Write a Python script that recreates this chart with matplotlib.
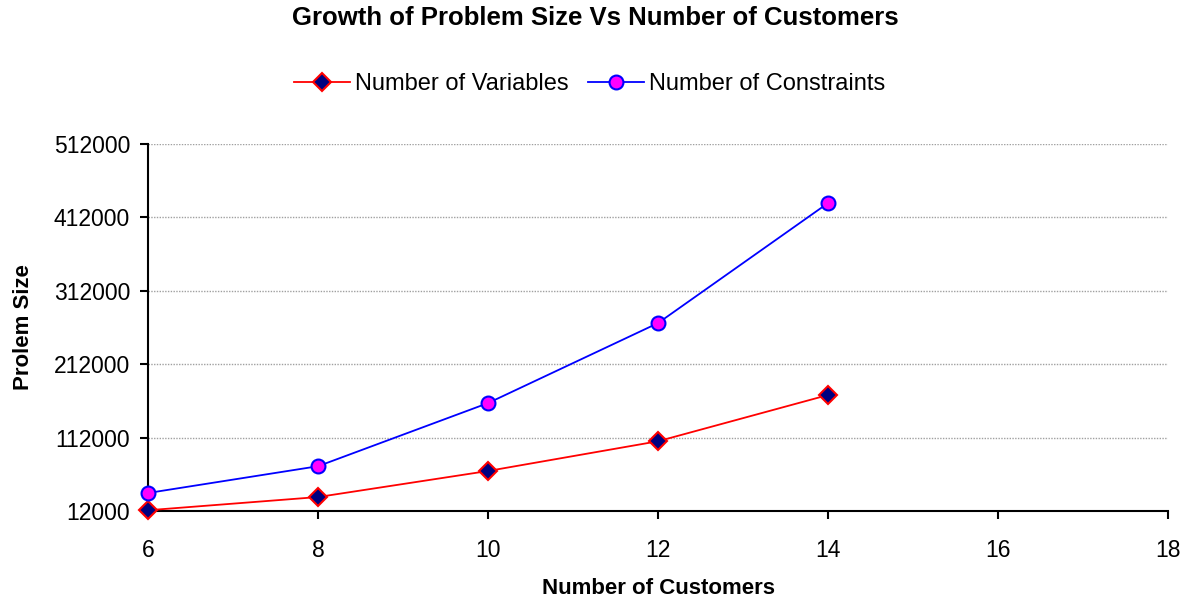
import matplotlib.pyplot as plt

customers = [6, 8, 10, 12, 14]
num_variables = [13000, 31000, 66500, 107000, 170000]
num_constraints = [36500, 73000, 159000, 268000, 431500]
y_ticks = [12000, 112000, 212000, 312000, 412000, 512000]
x_ticks = [6, 8, 10, 12, 14, 16, 18]

plt.rcParams['font.family'] = ['Liberation Sans', 'DejaVu Sans']

fig = plt.figure(figsize=(11.91, 6.05), dpi=100)
ax = fig.add_axes([0.1243, 0.1554, 0.8564, 0.6066])

ax.plot(customers, num_variables, color='red', linewidth=1.3, marker='D',
        markersize=9, markerfacecolor='#000080', markeredgecolor='red',
        markeredgewidth=1.5, label='Number of Variables', clip_on=False, zorder=3)
ax.plot(customers, num_constraints, color='blue', linewidth=1.3, marker='o',
        markersize=10, markerfacecolor='magenta', markeredgecolor='blue',
        markeredgewidth=1.5, label='Number of Constraints', clip_on=False, zorder=3)

ax.set_xlim(6, 18)
ax.set_ylim(12000, 512000)
ax.set_xticks(x_ticks)
ax.set_yticks(y_ticks)
ax.set_yticklabels([str(v) for v in y_ticks])
ax.tick_params(axis='both', labelsize=16.5, direction='out', length=6, width=1.5)
ax.tick_params(axis='x', pad=14)
ax.tick_params(axis='y', pad=7)
ax.grid(axis='y', color='#a0a0a0', linestyle=(0, (1, 1)), linewidth=1)
ax.set_axisbelow(True)

for side in ['top', 'right']:
    ax.spines[side].set_visible(False)
for side in ['left', 'bottom']:
    ax.spines[side].set_linewidth(1.5)

ax.set_xlabel('Number of Customers', fontsize=16, fontweight='bold', labelpad=12)
ax.set_ylabel('Prolem Size', fontsize=16, fontweight='bold', labelpad=14)

fig.text(0.5, 0.97, 'Growth of Problem Size Vs Number of Customers', ha='center',
         va='center', fontsize=18.5, fontweight='bold')
fig.legend(loc='center', bbox_to_anchor=(0.495, 0.861), ncol=2, frameon=False,
           fontsize=17, handlelength=2.4, columnspacing=0.8, handletextpad=0.2)

fig.savefig('out.png', dpi=100)
